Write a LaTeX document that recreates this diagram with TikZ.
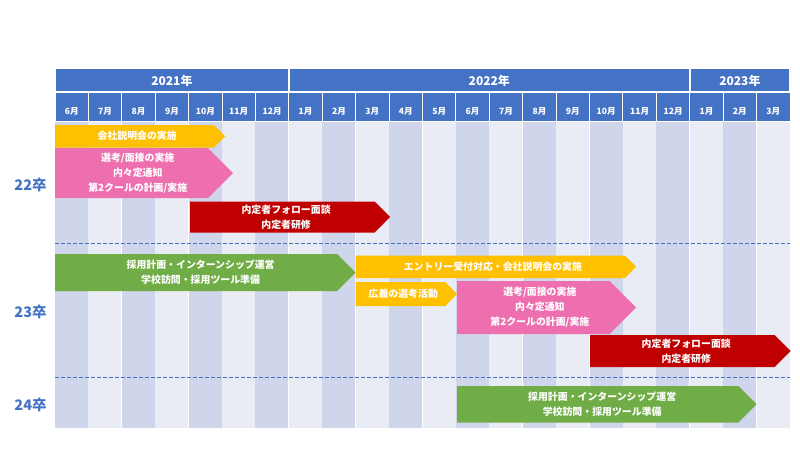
\documentclass[tikz,border=0pt]{standalone}
\usepackage{fontspec}
\setmainfont{Noto Sans CJK JP}
\definecolor{hdrblue}{HTML}{4472C4}
\definecolor{coldark}{HTML}{CFD5EA}
\definecolor{collight}{HTML}{E9EBF5}
\definecolor{arryellow}{HTML}{FFC000}
\definecolor{arrpink}{HTML}{EE6FAF}
\definecolor{arrred}{HTML}{C00000}
\definecolor{arrgreen}{HTML}{70AD47}
\tikzset{
  yearcell/.style={fill=hdrblue,draw=white,line width=1.5pt},
  monthcell/.style={fill=hdrblue,draw=white,line width=1pt},
  yeartext/.style={text=white,font=\fontsize{12}{12}\selectfont\bfseries,inner sep=0pt},
  monthtext/.style={text=white,font=\fontsize{8.6}{9}\selectfont\bfseries,inner sep=0pt},
  grptext/.style={text=hdrblue,font=\fontsize{14.5}{15}\selectfont\bfseries,inner sep=0pt},
  arrtext/.style={text=white,font=\fontsize{9.9}{15}\selectfont\bfseries,align=center,inner sep=0pt},
  sepline/.style={draw=hdrblue,dashed,dash pattern=on 3.5pt off 2.5pt,line width=0.8pt},
}
\newcommand{\chev}[7]{%
  \pgfmathsetmacro{\cxa}{#2}%
  \pgfmathsetmacro{\cxt}{#3}%
  \pgfmathsetmacro{\cyt}{#4}%
  \pgfmathsetmacro{\cyb}{#5}%
  \pgfmathsetmacro{\cym}{(\cyt+\cyb)/2}%
  \pgfmathsetmacro{\cxb}{\cxt-(\cyb-\cyt)/2}%
  \pgfmathsetmacro{\cxc}{(\cxa+\cxt)/2-(\cyb-\cyt)/8}%
  \fill[#6] (\cxa,\cyt) -- (\cxb,\cyt) -- (\cxt,\cym) -- (\cxb,\cyb) -- (\cxa,\cyb) -- cycle;
  \node[arrtext] (#1) at (\cxc,\cym) {#7};
}
\begin{document}
\begin{tikzpicture}[x=1pt,y=-1pt]
\useasboundingbox (0,0) rectangle (800,450);
\def\cw{33.409}
% body columns
\foreach \k in {0,...,21}{
  \pgfmathsetmacro{\xa}{55+\cw*\k}
  \pgfmathsetmacro{\xb}{55+\cw*(\k+1)}
  \pgfmathtruncatemacro{\parity}{mod(\k,2)}
  \ifnum\parity=0 \def\cc{coldark}\else\def\cc{collight}\fi
  \fill[\cc] (\xa,121) rectangle (\xb,428);
  \draw[white,line width=0.8pt] (\xb,121) -- (\xb,428);
}
% year header
\path[yearcell] (55,68) rectangle ({55+\cw*7},91.5);
\path[yearcell] ({55+\cw*7},68) rectangle ({55+\cw*19},91.5);
\path[yearcell] ({55+\cw*19},68) rectangle ({55+\cw*22},91.5);
\node[yeartext] (y2021) at ({55+\cw*3.5},80.5) {2021年};
\node[yeartext] (y2022) at ({55+\cw*13},80.5) {2022年};
\node[yeartext] (y2023) at ({55+\cw*20.5},80.5) {2023年};
% month header
\foreach \m [count=\i from 0] in {6,7,8,9,10,11,12,1,2,3,4,5,6,7,8,9,10,11,12,1,2,3}{
  \pgfmathsetmacro{\xa}{55+\cw*\i}
  \pgfmathsetmacro{\xb}{55+\cw*(\i+1)}
  \path[monthcell] (\xa,92.5) rectangle (\xb,121);
  \node[monthtext] (m\i) at ({(\xa+\xb)/2},111) {\m 月};
}
% separators
\coordinate (s1a) at (55,243.5);
\coordinate (s1b) at (790,243.5);
\coordinate (s2a) at (55,377.5);
\coordinate (s2b) at (790,377.5);
\draw[sepline] (s1a) -- (s1b);
\draw[sepline] (s2a) -- (s2b);
% group labels
\node[grptext] (g22) at (30.5,185) {22卒};
\node[grptext] (g23) at (30.5,312) {23卒};
\node[grptext] (g24) at (30.5,405) {24卒};
% chevrons
\chev{a1}{55}{225}{125}{147.5}{arryellow}{会社説明会の実施}
\chev{a2}{55}{233}{148}{198}{arrpink}{選考/面接の実施\\内々定通知\\第2クールの計画/実施}
\chev{a3}{190}{390}{201.5}{232.5}{arrred}{内定者フォロー面談\\内定者研修}
\chev{a4}{55}{355.5}{254}{291}{arrgreen}{採用計画・インターンシップ運営\\学校訪問・採用ツール準備}
\chev{a5}{355.5}{636}{255.5}{278}{arryellow}{エントリー受付対応・会社説明会の実施}
\chev{a6}{355.5}{457}{282}{306}{arryellow}{広義の選考活動}
\chev{a7}{457}{636}{281}{334}{arrpink}{選考/面接の実施\\内々定通知\\第2クールの計画/実施}
\chev{a8}{590}{790.5}{335}{367}{arrred}{内定者フォロー面談\\内定者研修}
\chev{a9}{457}{756.5}{386}{422.5}{arrgreen}{採用計画・インターンシップ運営\\学校訪問・採用ツール準備}
\end{tikzpicture}
\end{document}
